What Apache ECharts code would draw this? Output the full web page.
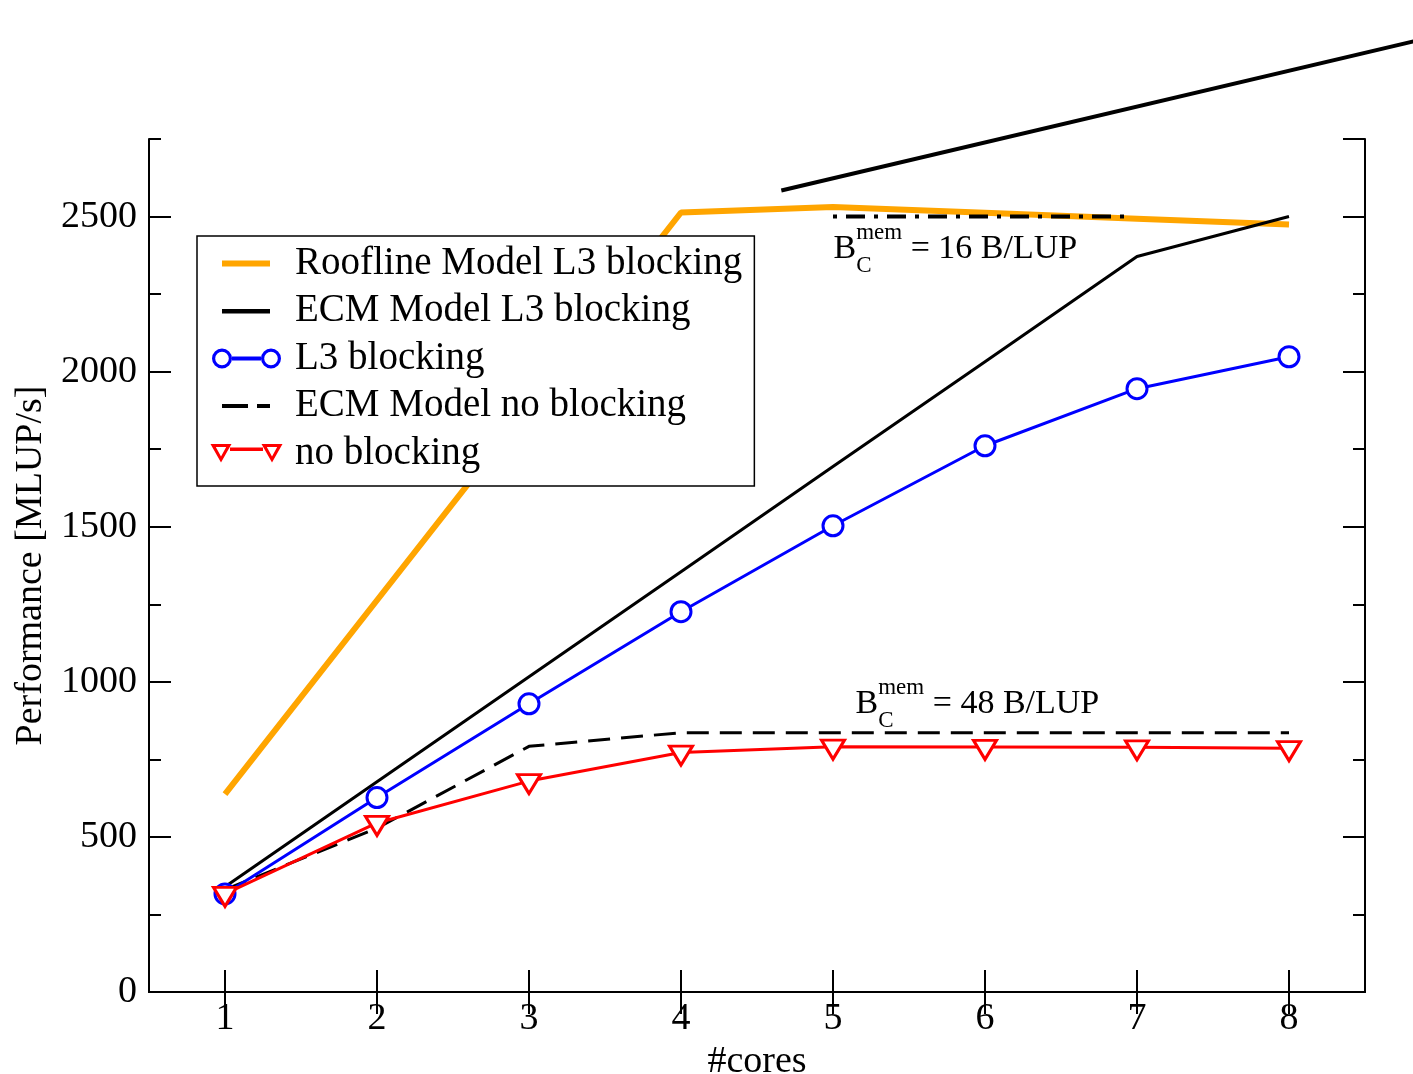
<!DOCTYPE html>
<html>
<head>
<meta charset="utf-8">
<title>Performance vs cores</title>
<script src="https://cdn.jsdelivr.net/npm/echarts@6/dist/echarts.min.js"></script>
<style>
  html, body { margin: 0; padding: 0; background: #fff; }
  #main { width: 1413px; height: 1074px; }
</style>
</head>
<body>
<div id="main"></div>
<script>
// values (MLUP/s per core count)
const cores = [1, 2, 3, 4, 5, 6, 7, 8];
const coreLabels = ['1', '2', '3', '4', '5', '6', '7', '8'];
const rooflineL3 = [638, 1263, 1888, 2513, 2531, 2512, 2493, 2474];
const ecmL3 = [339, 678, 1016, 1355, 1694, 2032, 2371, 2500];
const l3Blocking = [316, 627, 929, 1226, 1503, 1761, 1945, 2048];
const ecmNoBlocking = [330, 528, 792, 836, 836, 836, 836, 836];
const noBlocking = [316, 545, 680, 772, 791, 790, 789, 786];

// the 16 B/LUP bandwidth limit marker and the stray line above the frame
const bandLimit = [[5, 2500], [6.97, 2500]];
const strayLine = [[4.66, 2584], [8.82, 3065]];

// annotations: anchor (left edge / centre of the "B") and text
const noteAnchors = [[5.0, 2395], [5.145, 927]];
const noteTexts = ['= 16 B/LUP', '= 48 B/LUP'];

const yMin = 0, yMax = 2750, yStep = 500, yMinorStep = 250;
const xMin = 0.5, xMax = 8.5;

const serif = "'Liberation Serif', 'DejaVu Serif', serif";
const blue = '#0000ff', red = '#ff0000', orange = '#ffa500';

function pairs(ys) {
  return cores.map((c, i) => [c, ys[i]]);
}

// legend icons, 80x22 boxes (tiny corner marks fix the bounding box)
const corners = 'M0,0 L0.1,0 L0,0.1 Z M80,22 L79.9,22 L80,21.9 Z ';
function ring(cx, cy) {
  return 'M' + (cx - 10) + ',' + cy + ' A10,10 0 1,1 ' + (cx + 10) + ',' + cy +
    ' A10,10 0 1,1 ' + (cx - 10) + ',' + cy + ' Z ' +
    'M' + (cx - 6.8) + ',' + cy + ' A6.8,6.8 0 1,0 ' + (cx + 6.8) + ',' + cy +
    ' A6.8,6.8 0 1,0 ' + (cx - 6.8) + ',' + cy + ' Z ';
}
function tri(cx) {
  return 'M' + (cx - 10.5) + ',1.5 L' + (cx + 10.5) + ',1.5 L' + cx + ',20 Z ' +
    'M' + (cx - 5.2) + ',4.6 L' + cx + ',14 L' + (cx + 5.2) + ',4.6 Z ';
}
const icons = {
  roofline: 'path://' + corners + 'M12,8 H60 V14 H12 Z',
  ecm: 'path://' + corners + 'M12,9 H60 V13.5 H12 Z',
  l3: 'path://' + corners + ring(12, 11) + ring(61, 11) + 'M22,9 H51 V13 H22 Z',
  ecmNo: 'path://' + corners + 'M12,9 H38 V13 H12 Z M47,9 H60 V13 H47 Z',
  no: 'path://' + corners + tri(11) + tri(62) + 'M20,5 H53 V8.6 H20 Z'
};

function yAxisOf(position, interval, tickLen, withLabels) {
  return {
    type: 'value',
    gridIndex: 0,
    position: position,
    min: yMin,
    max: yMax,
    interval: interval,
    name: withLabels ? 'Performance [MLUP/s]' : '',
    nameLocation: 'middle',
    nameGap: 90,
    nameTextStyle: { fontFamily: serif, fontSize: 38, color: '#000' },
    axisLine: { show: interval === yStep, lineStyle: { color: '#000', width: 2 } },
    axisTick: { show: true, inside: true, length: tickLen, lineStyle: { color: '#000', width: 2 } },
    axisLabel: {
      show: withLabels,
      showMaxLabel: false,
      margin: 12,
      formatter: v => String(v),
      fontFamily: serif,
      fontSize: 38,
      color: '#000'
    },
    splitLine: { show: false }
  };
}

function xCatAxis(position, withLabels) {
  return {
    type: 'category',
    gridIndex: 0,
    position: position,
    data: coreLabels,
    boundaryGap: true,
    name: withLabels ? '#cores' : '',
    nameLocation: 'middle',
    nameGap: 43,
    nameTextStyle: { fontFamily: serif, fontSize: 38, color: '#000' },
    axisLine: { show: true, lineStyle: { color: '#000', width: 2 } },
    axisTick: { show: true, inside: true, alignWithLabel: true, length: 22, lineStyle: { color: '#000', width: 2 } },
    axisLabel: { show: withLabels, margin: 8, fontFamily: serif, fontSize: 38, color: '#000' },
    splitLine: { show: false }
  };
}

const noteRich = {
  b: { fontFamily: serif, fontSize: 34, lineHeight: 56, color: '#000' },
  bh: { fontFamily: serif, fontSize: 34, lineHeight: 56, color: 'rgba(255,255,255,0)' },
  sup: { fontFamily: serif, fontSize: 23, lineHeight: 23, verticalAlign: 'top', color: '#000' },
  sub: { fontFamily: serif, fontSize: 23, lineHeight: 23, verticalAlign: 'bottom', color: '#000' },
  t: { fontFamily: serif, fontSize: 34, lineHeight: 56, color: '#000' }
};
const noteData = [];
noteAnchors.forEach((p, i) => {
  noteData.push({ value: p, label: { formatter: '{b|B}{sup|mem}{t| ' + noteTexts[i] + '}' } });
  noteData.push({ value: p, label: { formatter: '{bh|B}{sub|C}' } });
});

const option = {
  animation: false,
  backgroundColor: '#fff',
  grid: [
    { left: 149, right: 48, top: 139, bottom: 82, containLabel: false, outerBoundsMode: 'none' },
    // same scale, but reaching the right edge of the canvas (for the stray line)
    { left: 149, right: 0, top: 139, bottom: 82, containLabel: false, outerBoundsMode: 'none' }
  ],
  xAxis: [
    xCatAxis('bottom', true),
    xCatAxis('top', false),
    { type: 'value', gridIndex: 0, min: xMin, max: xMax, show: false, position: 'bottom' },
    { type: 'value', gridIndex: 1, min: xMin, max: xMin + (1413 - 149) / 152, show: false }
  ],
  yAxis: [
    yAxisOf('left', yStep, 22, true),
    yAxisOf('left', yMinorStep, 12, false),
    yAxisOf('right', yStep, 22, false),
    yAxisOf('right', yMinorStep, 12, false),
    { type: 'value', gridIndex: 1, min: yMin, max: yMax, show: false }
  ],
  legend: {
    orient: 'vertical',
    left: 197,
    top: 236,
    padding: [8, 12, 13, 13],
    backgroundColor: '#fff',
    borderColor: '#000',
    borderWidth: 1.5,
    borderRadius: 0,
    itemWidth: 80,
    itemHeight: 22,
    itemGap: 8.5,
    selectedMode: false,
    itemStyle: { borderWidth: 0 },
    textStyle: { fontFamily: serif, fontSize: 39, lineHeight: 36, color: '#000' },
    data: [
      { name: 'Roofline Model L3 blocking', icon: icons.roofline, itemStyle: { color: orange } },
      { name: 'ECM Model L3 blocking', icon: icons.ecm, itemStyle: { color: '#000' } },
      { name: 'L3 blocking', icon: icons.l3, itemStyle: { color: blue } },
      { name: 'ECM Model no blocking', icon: icons.ecmNo, itemStyle: { color: '#000' } },
      { name: 'no blocking', icon: icons.no, itemStyle: { color: red } }
    ]
  },
  series: [
    {
      name: 'Roofline Model L3 blocking',
      type: 'line',
      xAxisIndex: 2,
      data: pairs(rooflineL3),
      symbol: 'none',
      color: orange,
      lineStyle: { color: orange, width: 6 }
    },
    {
      name: 'dash-dot limit',
      type: 'line',
      xAxisIndex: 2,
      data: bandLimit,
      symbol: 'none',
      color: '#000',
      lineStyle: { color: '#000', width: 4, type: [4, 9, 19, 9] }
    },
    {
      name: 'ECM Model L3 blocking',
      type: 'line',
      xAxisIndex: 2,
      data: pairs(ecmL3),
      symbol: 'none',
      color: '#000',
      lineStyle: { color: '#000', width: 3 }
    },
    {
      name: 'ECM Model no blocking',
      type: 'line',
      xAxisIndex: 2,
      data: pairs(ecmNoBlocking),
      symbol: 'none',
      color: '#000',
      lineStyle: { color: '#000', width: 3, type: [22, 11] }
    },
    {
      name: 'L3 blocking',
      type: 'line',
      xAxisIndex: 2,
      data: pairs(l3Blocking),
      symbol: 'circle',
      symbolSize: 20,
      color: blue,
      itemStyle: { color: '#fff', borderColor: blue, borderWidth: 3 },
      lineStyle: { color: blue, width: 3 }
    },
    {
      name: 'no blocking',
      type: 'line',
      xAxisIndex: 2,
      data: pairs(noBlocking),
      symbol: 'triangle',
      symbolRotate: 180,
      symbolSize: [23, 19],
      symbolOffset: [0, 3],
      color: red,
      itemStyle: { color: '#fff', borderColor: red, borderWidth: 3 },
      lineStyle: { color: red, width: 3 }
    },
    {
      name: 'stray',
      type: 'line',
      xAxisIndex: 3,
      yAxisIndex: 4,
      data: strayLine,
      clip: false,
      symbol: 'none',
      color: '#000',
      lineStyle: { color: '#000', width: 4 }
    },
    {
      name: 'notes',
      type: 'line',
      xAxisIndex: 2,
      clip: false,
      silent: true,
      showSymbol: true,
      symbol: 'circle',
      symbolSize: 1,
      color: '#000',
      itemStyle: { color: '#000', opacity: 0 },
      lineStyle: { width: 0, opacity: 0 },
      label: { show: true, position: 'right', distance: 0, color: '#000', opacity: 1, rich: noteRich },
      data: noteData
    }
  ]
};

let myChart = echarts.init(document.getElementById('main'));
myChart.setOption(option);
</script>
</body>
</html>
